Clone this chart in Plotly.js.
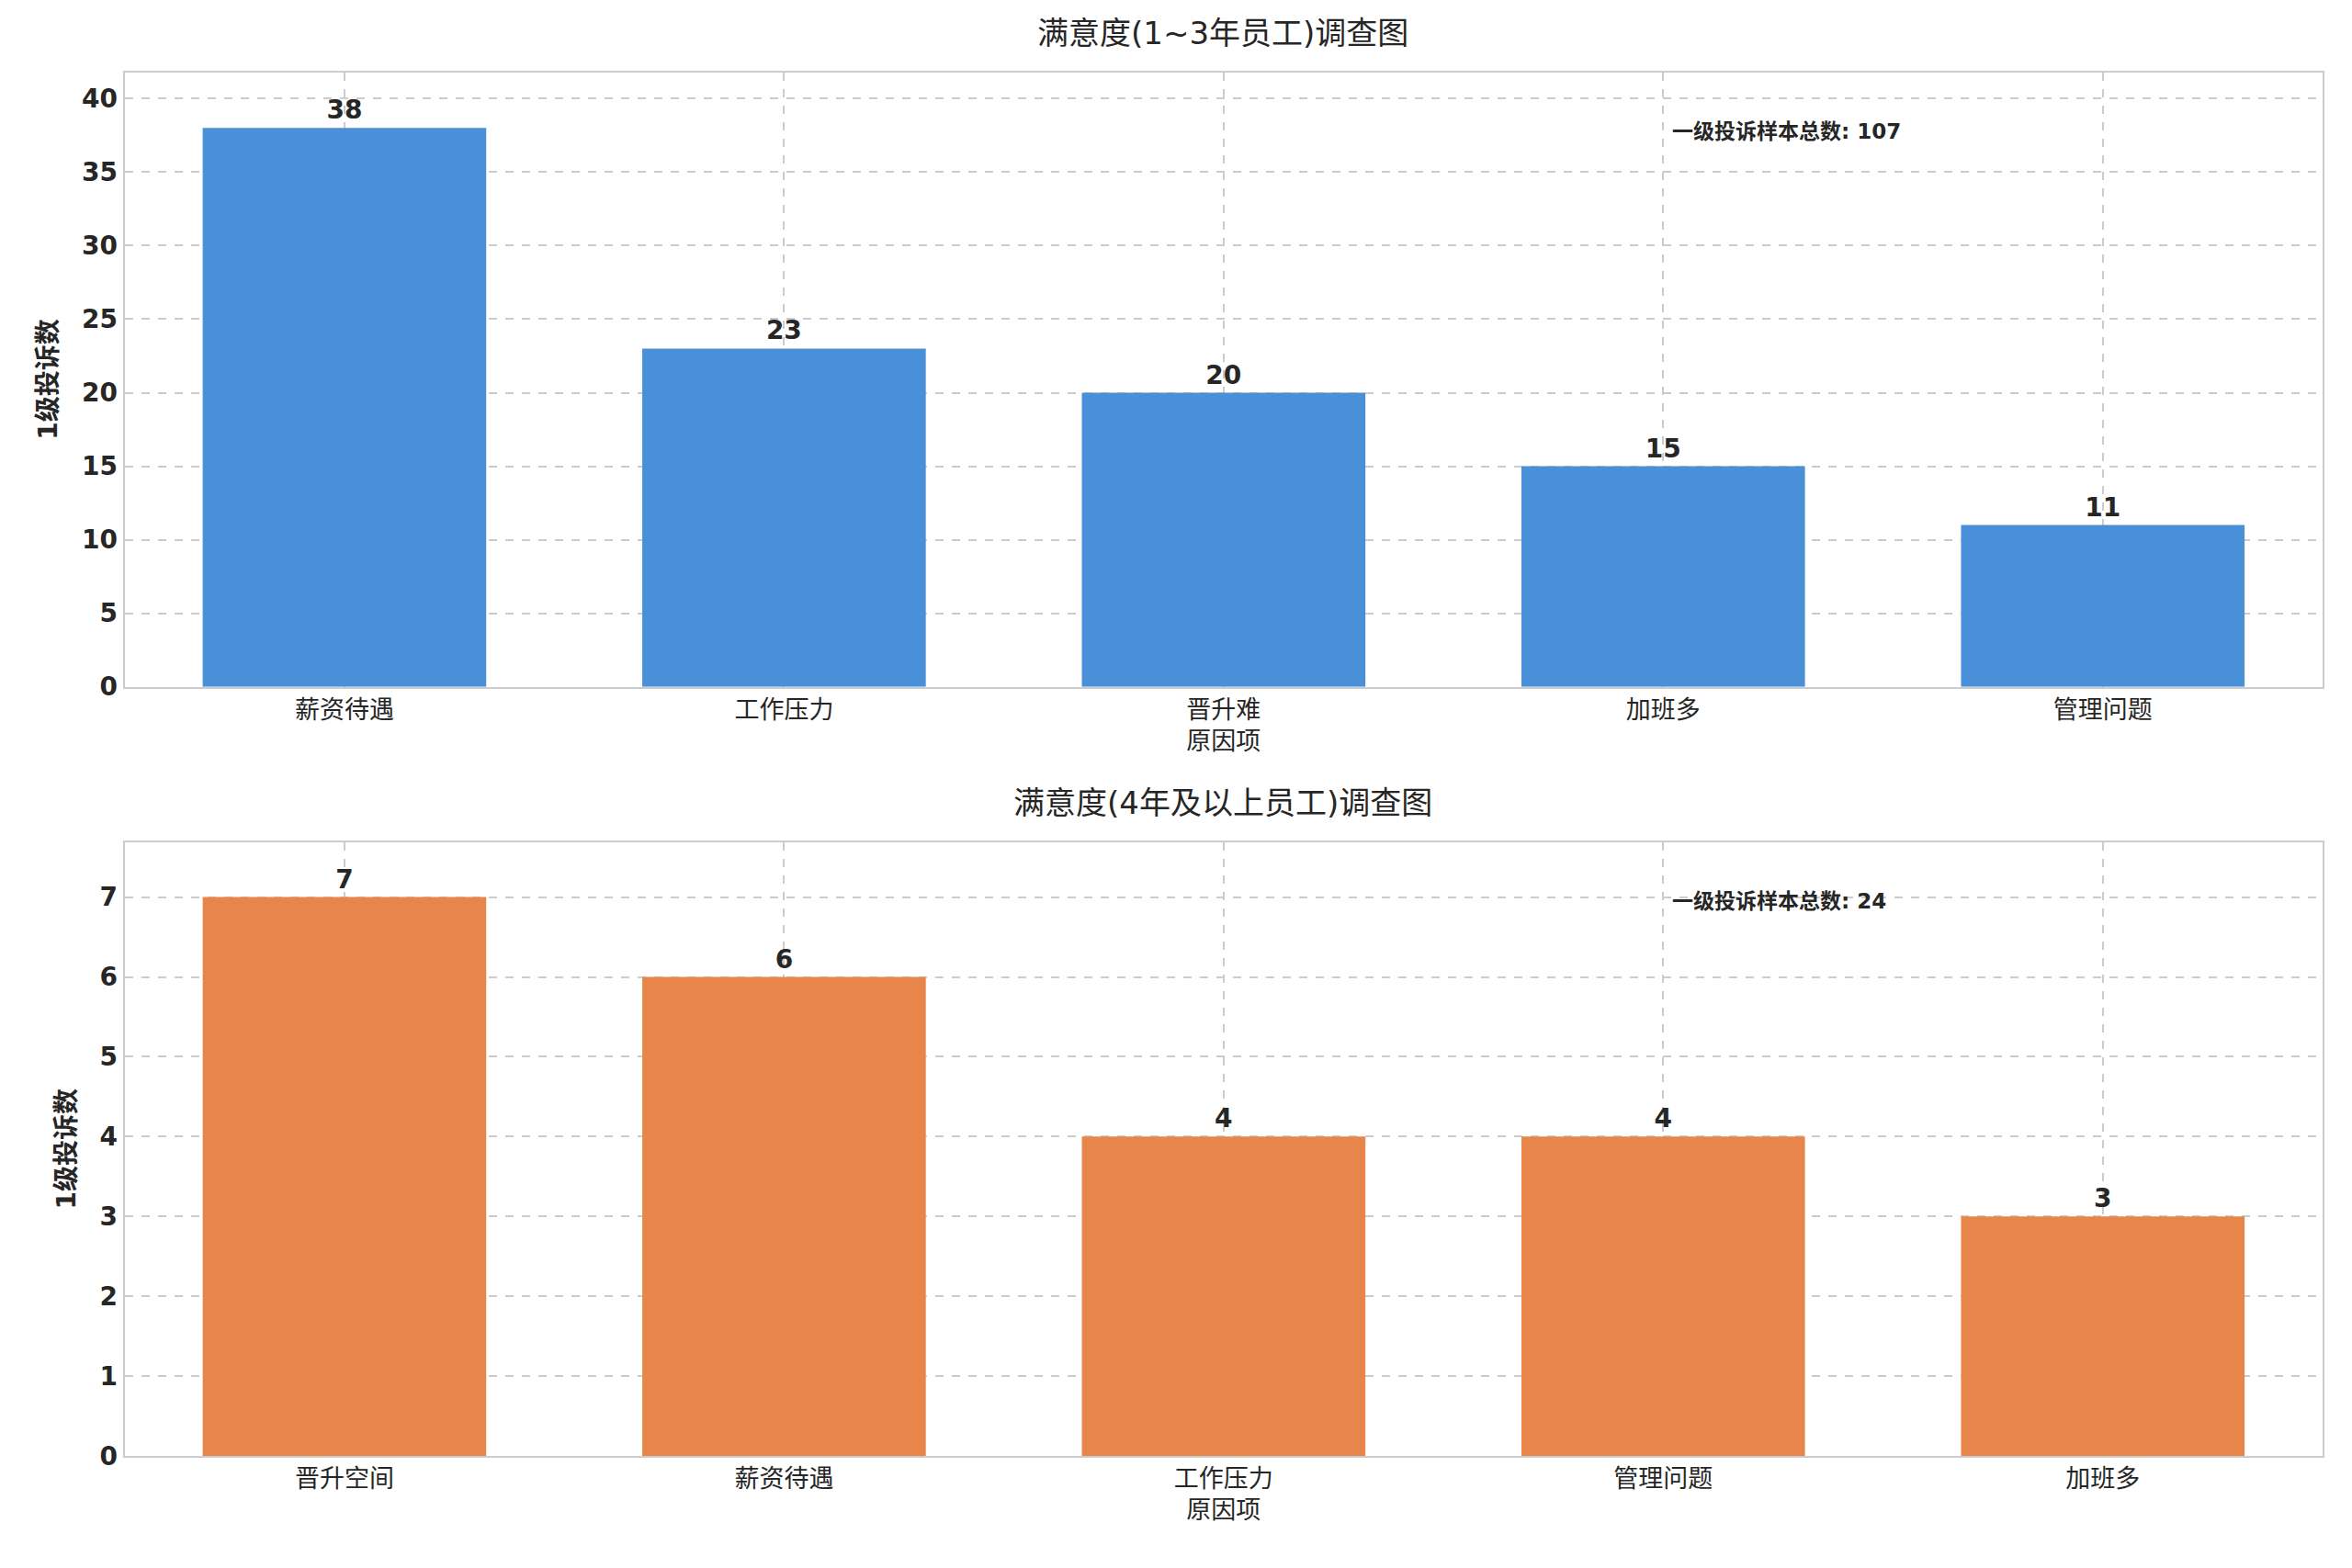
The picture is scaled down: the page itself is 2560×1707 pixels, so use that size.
<!DOCTYPE html>
<html>
<head>
<meta charset="utf-8">
<script src="https://cdn.plot.ly/plotly-3.0.1.min.js"></script>
<style>body{margin:0;background:#fff}</style>
</head>
<body>
<div id="chart" style="width:2560px;height:1707px"></div>
<script>
// top panel: 1~3 years
const topCats = ['薪资待遇', '工作压力', '晋升难', '加班多', '管理问题'];
const topVals = [38, 23, 20, 15, 11];
const topTotal = 107;
// bottom panel: 4 years and above
const botCats = ['晋升空间', '薪资待遇', '工作压力', '管理问题', '加班多'];
const botVals = [7, 6, 4, 4, 3];
const botTotal = 24;

const font = 'DejaVu Sans, Noto Sans CJK SC, sans-serif';
const dark = '#262626';

function bar(cats, vals, color, xa, ya) {
  return {
    type: 'bar', x: cats, y: vals, xaxis: xa, yaxis: ya,
    width: 0.645, marker: {color: color},
    text: vals.map(String), textposition: 'outside', cliponaxis: false,
    textfont: {family: font, size: 28, color: dark, weight: 'bold'},
    hoverinfo: 'none'
  };
}

function xax(anchor, domain) {
  return {
    anchor: anchor, domain: domain, showgrid: true, gridcolor: '#cccccc', griddash: 'dash',
    gridwidth: 2, showline: true, linecolor: '#cccccc', linewidth: 2, mirror: true,
    tickfont: {family: font, size: 27, color: dark}, ticks: '',
    title: {text: '原因项', font: {family: font, size: 27, color: dark}, standoff: 10}
  };
}
function yax(anchor, domain, range, dtick) {
  return {
    anchor: anchor, domain: domain, range: range, dtick: dtick, showgrid: true,
    gridcolor: '#cccccc', griddash: 'dash', gridwidth: 2, zeroline: false,
    showline: true, linecolor: '#cccccc', linewidth: 2, mirror: true, ticks: '',
    tickfont: {family: font, size: 28, color: dark, weight: 'bold'},
    title: {text: '1级投诉数', font: {family: font, size: 28, color: dark, weight: 'bold'}, standoff: 18}
  };
}

const layout = {
  width: 2560, height: 1707, paper_bgcolor: '#fff', plot_bgcolor: '#fff',
  margin: {l: 0, r: 0, t: 0, b: 0}, showlegend: false,
  xaxis: xax('y', [0.053, 0.9875]),
  yaxis: yax('x', [0.562, 0.954], [0, 41.8], 5),
  xaxis2: xax('y2', [0.053, 0.9875]),
  yaxis2: yax('x2', [0.0715, 0.463], [0, 7.69], 1),
  annotations: [
    {xref: 'paper', yref: 'paper', x: 0.52, y: 0.966, xanchor: 'center', yanchor: 'bottom',
     text: '满意度(1~3年员工)调查图', showarrow: false, font: {family: font, size: 34, color: dark}},
    {xref: 'paper', yref: 'paper', x: 0.52, y: 0.475, xanchor: 'center', yanchor: 'bottom',
     text: '满意度(4年及以上员工)调查图', showarrow: false, font: {family: font, size: 34, color: dark}},
    {xref: 'x', yref: 'y', x: 3, y: 37.8, xanchor: 'left', xshift: 8, showarrow: false,
     text: '一级投诉样本总数: ' + topTotal, font: {family: font, size: 23, color: dark, weight: 'bold'}},
    {xref: 'x2', yref: 'y2', x: 3, y: 6.95, xanchor: 'left', xshift: 8, showarrow: false,
     text: '一级投诉样本总数: ' + botTotal, font: {family: font, size: 23, color: dark, weight: 'bold'}}
  ]
};

Plotly.newPlot('chart', [
  bar(topCats, topVals, '#4a90d9', 'x', 'y'),
  bar(botCats, botVals, '#e8854a', 'x2', 'y2')
], layout, {staticPlot: true});
</script>
</body>
</html>
